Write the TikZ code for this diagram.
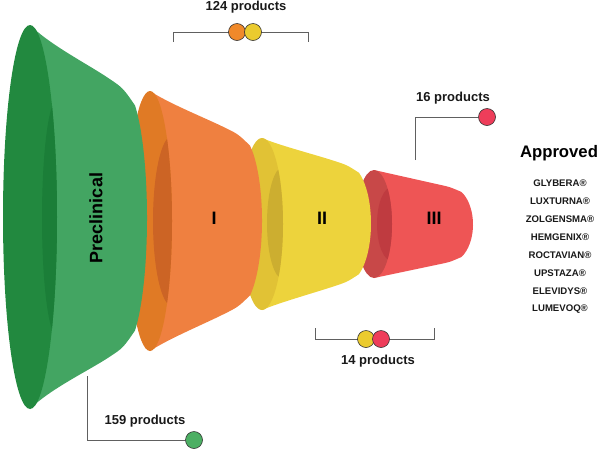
\documentclass[tikz,border=0pt]{standalone}
\usepackage{fontspec}
\setmainfont{Liberation Sans}
\definecolor{gL}{HTML}{43A562}
\definecolor{gD}{HTML}{22893F}
\definecolor{gC}{HTML}{1B7E38}
\definecolor{oL}{HTML}{EF8040}
\definecolor{oD}{HTML}{E07A25}
\definecolor{oC}{HTML}{CC6425}
\definecolor{yL}{HTML}{EDD33C}
\definecolor{yD}{HTML}{E1C235}
\definecolor{yC}{HTML}{CCAE30}
\definecolor{rL}{HTML}{EE5555}
\definecolor{rD}{HTML}{C84848}
\definecolor{rC}{HTML}{BF3B40}
\definecolor{dotG}{HTML}{4CAF63}
\definecolor{dotO}{HTML}{F0892A}
\definecolor{dotY}{HTML}{EBCB2E}
\definecolor{dotR}{HTML}{EE3D5A}
\definecolor{lineC}{HTML}{606060}
\tikzset{
  dotnode/.style={circle,draw=black!80,line width=0.6pt,minimum size=17pt,inner sep=0pt},
  conn/.style={draw=lineC,line width=0.9pt},
  prodlabel/.style={font=\fontsize{13}{15}\selectfont\bfseries,text=black!90,inner sep=0pt},
  stagelabel/.style={font=\fontsize{18}{20}\selectfont\bfseries,text=black,inner sep=0pt},
  druglabel/.style={font=\fontsize{9.6}{11}\selectfont\bfseries,text=black!90,inner sep=0pt},
}
\begin{document}
\begin{tikzpicture}[x=1pt,y=-1pt]
\useasboundingbox (0,0) rectangle (602,451);
% ---- Red (III)
\fill[rL] (374,170) -- (440,184.8) .. controls (450,187) .. (461.5,192)
  arc[start angle=60,end angle=-60,x radius=23pt,y radius=37.5pt]
  .. controls (450,262) .. (440,264.1) -- (374,278) -- cycle;
\fill[rD] (374,224) ellipse[x radius=18pt,y radius=54pt];
\begin{scope}
\clip (374,224) ellipse[x radius=18pt,y radius=54pt];
\fill[rC] (392,224) ellipse[x radius=15pt,y radius=37pt];
\end{scope}
% ---- Yellow (II)
\fill[yL] (262,138) .. controls (278,145) and (312,153.75) .. (333,160.5) .. controls (347,165) .. (359,172.8)
  arc[start angle=60,end angle=-60,x radius=24pt,y radius=58.5pt]
  .. controls (347,282) .. (333,286.6) .. controls (312,293.5) and (278,303) .. (262,310) -- cycle;
\fill[yD] (262,224) ellipse[x radius=21pt,y radius=86pt];
\begin{scope}
\clip (262,224) ellipse[x radius=21pt,y radius=86pt];
\fill[yC] (283,223) ellipse[x radius=16pt,y radius=56pt];
\end{scope}
% ---- Orange (I)
\fill[oL] (150,91) .. controls (168,103) and (203,117) .. (224,127.2) .. controls (238,134) .. (250,145.6)
  arc[start angle=60,end angle=-60,x radius=24pt,y radius=86.5pt]
  .. controls (238,307) .. (224,314) .. controls (203,324.5) and (168,339) .. (150,351) -- cycle;
\fill[oD] (150,221) ellipse[x radius=22pt,y radius=130pt];
\begin{scope}
\clip (150,221) ellipse[x radius=22pt,y radius=130pt];
\fill[oC] (172,221) ellipse[x radius=19pt,y radius=85pt];
\end{scope}
% ---- Green (Preclinical)
\fill[gL] (30,25) .. controls (50,45) and (88,64.25) .. (109,78.5) .. controls (123,88) .. (135,105.4)
  arc[start angle=60,end angle=-60,x radius=24pt,y radius=130pt]
  .. controls (123,348) .. (109,357.2) .. controls (88,371) and (50,389) .. (30,409) -- cycle;
\fill[gD] (30,217) ellipse[x radius=27pt,y radius=192pt];
\begin{scope}
\clip (30,217) ellipse[x radius=27pt,y radius=192pt];
\fill[gC] (57,218) ellipse[x radius=15pt,y radius=118pt];
\end{scope}
% ---- stage labels
\node[stagelabel,rotate=90] (pre) at (96,218) {Preclinical};
\node[stagelabel] (s1) at (214,218) {I};
\node[stagelabel] (s2) at (322,218) {II};
\node[stagelabel] (s3) at (434,218) {III};
% ---- 124 products
\node[prodlabel] (t124) at (246,7) {124 products};
\coordinate (b1a) at (173,42);
\coordinate (b1b) at (173,32);
\coordinate (b1c) at (308,32);
\coordinate (b1d) at (308,42);
\draw[conn] (b1a) -- (b1b) -- (b1c) -- (b1d);
\node[dotnode,fill=dotO] (c124a) at (237,32) {};
\node[dotnode,fill=dotY] (c124b) at (253,32) {};
% ---- 16 products
\node[prodlabel] (t16) at (453,98) {16 products};
\coordinate (p16a) at (415,160);
\coordinate (p16b) at (415,117);
\node[dotnode,fill=dotR] (c16) at (487,117) {};
\draw[conn] (p16a) -- (p16b) -- (c16.west);
% ---- 159 products
\node[prodlabel] (t159) at (145,421) {159 products};
\coordinate (p159a) at (87,376);
\coordinate (p159b) at (87,440);
\node[dotnode,fill=dotG] (c159) at (194,440) {};
\draw[conn] (p159a) -- (p159b) -- (c159.west);
% ---- 14 products
\node[prodlabel] (t14) at (378,361) {14 products};
\coordinate (b2a) at (315,328);
\coordinate (b2b) at (315,339);
\coordinate (b2c) at (434,339);
\coordinate (b2d) at (434,328);
\draw[conn] (b2a) -- (b2b) -- (b2c) -- (b2d);
\node[dotnode,fill=dotY] (c14a) at (366,339) {};
\node[dotnode,fill=dotR] (c14b) at (381,339) {};
% ---- Approved list
\node[font=\fontsize{16.7}{19}\selectfont\bfseries,inner sep=0pt] (appr) at (559,153) {Approved};
\node[druglabel] (d1) at (560,183) {GLYBERA®};
\node[druglabel] (d2) at (560,201) {LUXTURNA®};
\node[druglabel] (d3) at (560,219) {ZOLGENSMA®};
\node[druglabel] (d4) at (560,237) {HEMGENIX®};
\node[druglabel] (d5) at (560,255) {ROCTAVIAN®};
\node[druglabel] (d6) at (560,273) {UPSTAZA®};
\node[druglabel] (d7) at (560,291) {ELEVIDYS®};
\node[druglabel] (d8) at (560,309) {LUMEVOQ®};
\end{tikzpicture}
\end{document}
